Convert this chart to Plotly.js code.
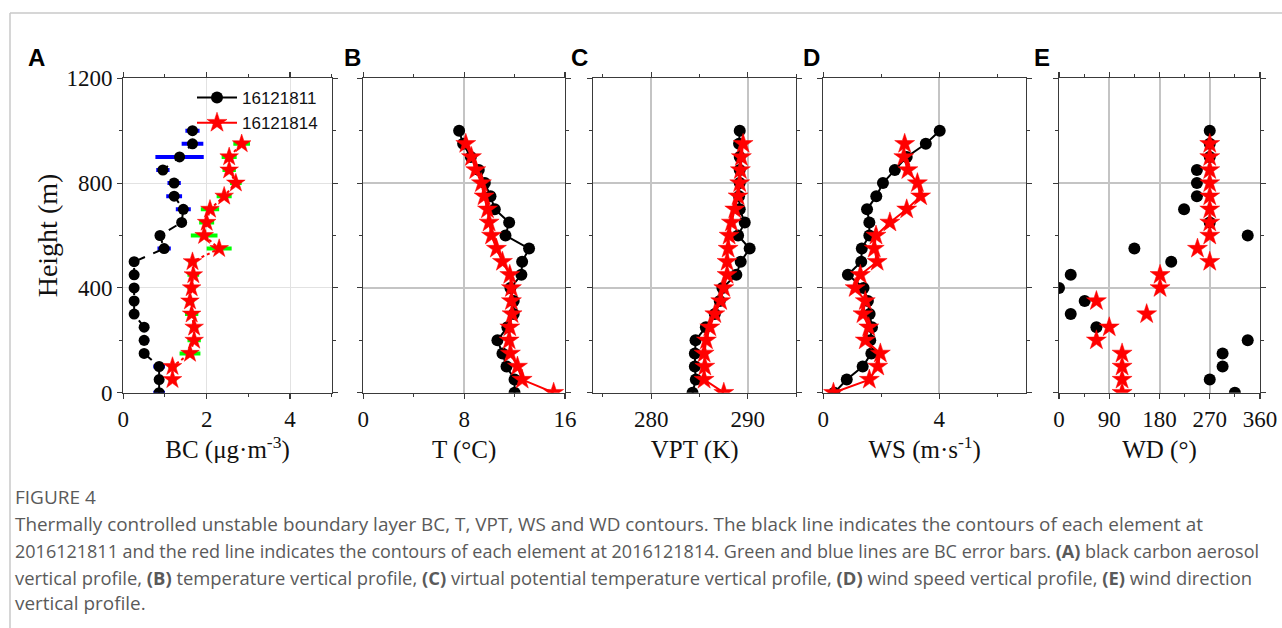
<!DOCTYPE html>
<html>
<head>
<meta charset="utf-8">
<script src="https://cdn.plot.ly/plotly-3.0.1.min.js"></script>
<style>html,body{margin:0;padding:0;background:#fff;}#chart{width:1282px;height:628px;}</style>
</head>
<body>
<div id="chart"></div>
<script>
// ---------- DATA ----------
const heightBlack = [0,50,100,150,200,250,300,350,400,450,500,550,600,650,700,750,800,850,900,950,1000];
const heightRed   = [0,50,100,150,200,250,300,350,400,450,500,550,600,650,700,750,800,850,900,950];
const heightRedBC = [50,100,150,200,250,300,350,400,450,500,550,600,650,700,750,800,850,900,950];

// (A) BC, µg·m-3
const bcBlack    = [0.86,0.86,0.86,0.50,0.50,0.50,0.26,0.26,0.26,0.26,0.26,0.98,0.88,1.40,1.44,1.22,1.22,0.95,1.35,1.66,1.66];
const bcBlackErr = [0.14,0.10,0.14,0.10,0.12,0.10,0.10,0.10,0.10,0.10,0.10,0.16,0.12,0.10,0.18,0.19,0.16,0.16,0.58,0.26,0.17];
const bcRed      = [1.18,1.18,1.60,1.70,1.70,1.64,1.60,1.64,1.68,1.66,2.30,1.94,2.00,2.08,2.42,2.70,2.54,2.54,2.84];
const bcRedErr   = [0.10,0.10,0.25,0.16,0.10,0.16,0.10,0.10,0.14,0.10,0.30,0.32,0.18,0.22,0.18,0.14,0.16,0.18,0.20];

// (B) T, °C
const tBlack = [12.0,12.0,11.36,11.04,10.64,11.43,11.93,11.93,11.67,12.54,12.6,13.15,11.28,11.57,10.43,10.09,9.64,9.16,8.53,7.92,7.6];
const tRed   = [15.1,12.6,12.23,11.67,11.57,11.62,11.8,11.75,11.75,11.62,11.04,10.56,10.17,9.98,9.85,9.58,9.37,8.92,8.58,8.13];

// (C) VPT, K
const vptBlack = [284.28,284.62,284.52,284.52,284.59,285.66,286.59,287.1,287.38,288.82,289.27,290.2,289.0,289.69,289.17,289.1,289.17,289.17,289.17,289.1,289.17];
const vptRed   = [287.52,285.48,285.55,285.48,285.72,286.07,286.59,287.2,287.52,287.86,287.86,287.97,288.07,288.31,288.66,289.0,289.17,289.24,289.34,289.52];

// (D) WS, m·s-1
const wsBlack = [0.38,0.81,1.36,1.66,1.62,1.68,1.6,1.54,1.39,0.85,1.31,1.33,1.59,1.59,1.51,1.83,2.06,2.47,2.88,3.54,4.02];
const wsRed   = [0.35,1.59,1.88,1.97,1.45,1.57,1.37,1.45,1.1,1.28,1.86,1.76,1.82,2.3,2.88,3.36,3.25,2.92,2.78,2.81];

// (E) WD, °
const wdBlack = [315,270,293,293,338,67,21,46,0,21,201,135,338,270,224,247,247,247,270,270,270];
const wdRed   = [113,113,113,113,67,90,157,67,181,181,270,248,270,270,270,270,270,270,270,270];

const legendNames = ['16121811','16121814'];
const panelLetters = ['A','B','C','D','E'];
const xTitles = ['BC (μg·m<sup>-3</sup>)','T (°C)','VPT (K)','WS (m·s<sup>-1</sup>)','WD (°)'];
const yTitle = 'Height (m)';
const captionHead = 'FIGURE 4';
const captionLines = [
  'Thermally controlled unstable boundary layer BC, T, VPT, WS and WD contours. The black line indicates the contours of each element at',
  '2016121811 and the red line indicates the contours of each element at 2016121814. Green and blue lines are BC error bars. <b>(A)</b> black carbon aerosol',
  'vertical profile, <b>(B)</b> temperature vertical profile, <b>(C)</b> virtual potential temperature vertical profile, <b>(D)</b> wind speed vertical profile, <b>(E)</b> wind direction',
  'vertical profile.'
];

// ---------- LAYOUT HELPERS ----------
const W = 1282, H = 628;
const fx = v => v / W;
const fy = v => 1 - v / H;
const plotTop = 78.3, plotBot = 392.7;
const panels = [
  {l:123.3, r:331.7, range:[0,5],     tickvals:[0,2,4],        minor:{dtick:1}, letterX:36, grid:'#e2e2e2', gw:1},
  {l:363.3, r:565.0, range:[0,16],    tickvals:[0,8,16],       minor:{dtick:4}, letterX:352, grid:'#c4c4c4', gw:2},
  {l:593.3, r:796.0, range:[274,295], tickvals:[280,290],      minor:{tick0:275, dtick:5}, letterX:579, grid:'#c4c4c4', gw:2},
  {l:823.3, r:1026., range:[0,7],     tickvals:[0,4],          minor:{dtick:2}, letterX:811, grid:'#c4c4c4', gw:2},
  {l:1059., r:1260., range:[0,360],   tickvals:[0,90,180,270,360], minor:{dtick:45}, letterX:1042, grid:'#c4c4c4', gw:2}
];

const serif = 'Liberation Serif, Times New Roman, serif';
const sans = 'Liberation Sans, Arial, sans-serif';
const axisCol = '#3a3a3a';

const layout = {
  width: W, height: H,
  margin: {l:0, r:0, t:0, b:0},
  paper_bgcolor: '#fff', plot_bgcolor: '#fff',
  showlegend: true,
  legend: {
    x: fx(192), y: fy(80), xanchor: 'left', yanchor: 'top',
    bgcolor: 'rgba(0,0,0,0)', borderwidth: 0,
    font: {family: sans, size: 17, color: '#111'},
    itemwidth: 40, tracegroupgap: 0
  },
  annotations: [], shapes: []
};

panels.forEach((p, i) => {
  const n = i === 0 ? '' : String(i + 1);
  layout['xaxis' + n] = {
    domain: [fx(p.l), fx(p.r)], anchor: 'y' + n, range: p.range,
    tickmode: 'array', tickvals: p.tickvals,
    ticks: 'outside', ticklen: 5, tickwidth: 1.2, tickcolor: axisCol,
    minor: Object.assign({ticks: 'outside', ticklen: 3, tickwidth: 1, tickcolor: axisCol, showgrid: false}, p.minor),
    showline: true, linecolor: axisCol, linewidth: 1.2, mirror: 'ticks',
    showgrid: true, gridcolor: p.grid, gridwidth: p.gw, zeroline: false,
    tickfont: {family: serif, size: 23, color: '#111'},
    title: {text: xTitles[i], font: {family: serif, size: 25, color: '#111'}, standoff: 10},
    fixedrange: true
  };
  const ya = {
    domain: [fy(plotBot), fy(plotTop)], anchor: 'x' + n, range: [0, 1200],
    tickmode: 'array', tickvals: [0, 400, 800, 1200],
    ticks: 'outside', ticklen: 5, tickwidth: 1.2, tickcolor: axisCol,
    minor: {ticks: 'outside', ticklen: 3, tickwidth: 1, tickcolor: axisCol, dtick: 200, showgrid: false},
    showline: true, linecolor: axisCol, linewidth: 1.2, mirror: 'ticks',
    showgrid: true, gridcolor: p.grid, gridwidth: p.gw, zeroline: false,
    showticklabels: i === 0,
    tickfont: {family: serif, size: 23, color: '#111'},
    fixedrange: true
  };
  if (i === 0) ya.title = {text: yTitle, font: {family: serif, size: 28, color: '#111'}, standoff: 0};
  layout['yaxis' + n] = ya;
  layout.annotations.push({
    xref: 'paper', yref: 'paper', x: fx(p.letterX), y: fy(57), xanchor: 'center', yanchor: 'middle',
    text: '<b>' + panelLetters[i] + '</b>', showarrow: false,
    font: {family: sans, size: 24, color: '#000'}
  });
});

// caption
const capFont = 'Open Sans, Noto Sans, sans-serif';
layout.annotations.push({
  xref: 'paper', yref: 'paper', x: fx(13), y: fy(497), xanchor: 'left', yanchor: 'middle',
  text: captionHead, showarrow: false, font: {family: capFont, size: 19, color: '#5a5a5a'}
});
const capY = [524, 551, 577, 603];
const capSize = [18.9, 18.0, 18.4, 18.9];
captionLines.forEach((t, k) => {
  layout.annotations.push({
    xref: 'paper', yref: 'paper', x: fx(13), y: fy(capY[k]), xanchor: 'left', yanchor: 'middle',
    text: t, showarrow: false, font: {family: capFont, size: capSize[k], color: '#5a5a5a'}
  });
});

// frame lines
layout.shapes.push({type: 'line', xref: 'paper', yref: 'paper', x0: fx(10), x1: 1, y0: fy(13), y1: fy(13), line: {color: '#c8c8c8', width: 1.5}});
layout.shapes.push({type: 'line', xref: 'paper', yref: 'paper', x0: fx(10), x1: fx(10), y0: fy(13), y1: 0, line: {color: '#c8c8c8', width: 1.5}});

// ---------- TRACES ----------
const blackMarker = {symbol: 'circle', size: 12, color: '#000'};
const redMarker = {symbol: 'star', size: 15, color: '#ff0000', line: {color: '#ff0000', width: 0.5}};

const traces = [];
// Panel A
traces.push({
  x: bcBlack, y: heightBlack, xaxis: 'x', yaxis: 'y', type: 'scatter', mode: 'lines+markers',
  line: {color: '#000', width: 2, dash: 'dash'}, marker: Object.assign({}, blackMarker, {size: 11}),
  error_x: {type: 'data', array: bcBlackErr, visible: true, color: '#0000ff', thickness: 4, width: 0},
  showlegend: false, name: legendNames[0]
});
traces.push({
  x: bcRed, y: heightRedBC, xaxis: 'x', yaxis: 'y', type: 'scatter', mode: 'lines+markers',
  line: {color: '#ff0000', width: 2, dash: 'dot'}, marker: Object.assign({}, redMarker, {size: 14}),
  error_x: {type: 'data', array: bcRedErr, visible: true, color: '#00ff00', thickness: 4, width: 0},
  showlegend: false, name: legendNames[1]
});
// Panels B-D (lines)
const lineSets = [[tBlack, tRed], [vptBlack, vptRed], [wsBlack, wsRed]];
lineSets.forEach((s, k) => {
  const n = String(k + 2);
  traces.push({
    x: s[0], y: heightBlack, xaxis: 'x' + n, yaxis: 'y' + n, type: 'scatter', mode: 'lines+markers',
    line: {color: '#000', width: 2}, marker: blackMarker, name: legendNames[0], showlegend: k === 0, legendrank: 1
  });
  traces.push({
    x: s[1], y: heightRed, xaxis: 'x' + n, yaxis: 'y' + n, type: 'scatter', mode: 'lines+markers',
    line: {color: '#ff0000', width: 2}, marker: redMarker, name: legendNames[1], showlegend: k === 0, legendrank: 2
  });
});
// Panel E (markers only)
traces.push({x: wdBlack, y: heightBlack, xaxis: 'x5', yaxis: 'y5', type: 'scatter', mode: 'markers', marker: blackMarker, showlegend: false, name: legendNames[0]});
traces.push({x: wdRed, y: heightRed, xaxis: 'x5', yaxis: 'y5', type: 'scatter', mode: 'markers', marker: redMarker, showlegend: false, name: legendNames[1]});

Plotly.newPlot('chart', traces, layout, {displayModeBar: false, staticPlot: true});
</script>
</body>
</html>
